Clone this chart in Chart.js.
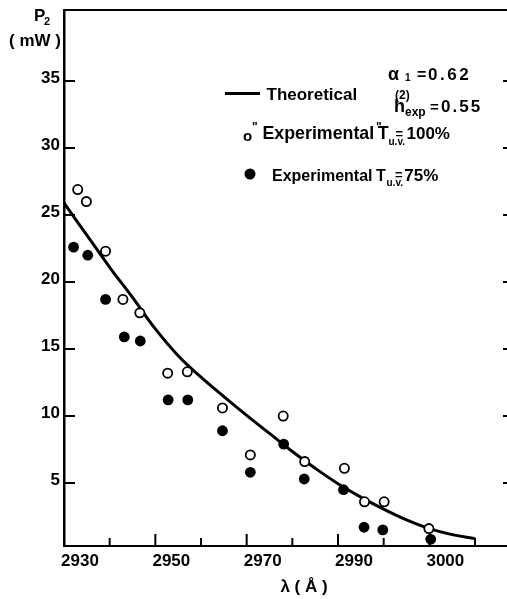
<!DOCTYPE html>
<html><head><meta charset="utf-8">
<script src="https://cdn.jsdelivr.net/npm/chart.js@4.4.0/dist/chart.umd.min.js"></script>
<style>html,body{margin:0;padding:0;background:#fff;overflow:hidden;} #wrap{width:507px;height:599px;position:relative;}</style>
</head><body><div id="wrap"><canvas id="c"></canvas></div>
<script>
// Theoretical curve (λ in Å, P2 in mW)
const curveX = [2930, 2935, 2940, 2945, 2950, 2955, 2960, 2965, 2970, 2975, 2980, 2985, 2990, 2995, 3000, 3005, 3010, 3015, 3020];
const curveY = [25.9, 23.5, 21.1, 18.85, 16.5, 14.5, 12.9, 11.45, 10.05, 8.7, 7.35, 6.1, 4.95, 3.95, 3.05, 2.25, 1.6, 1.15, 0.85];
// Experimental T_uv = 100% (open circles)
const openX = [2933.0, 2934.9, 2939.1, 2942.9, 2946.6, 2952.7, 2957.0, 2964.7, 2970.8, 2978.0, 2982.7, 2991.4, 2995.8, 3000.1, 3009.9];
const openY = [26.9, 26.0, 22.3, 18.7, 17.7, 13.2, 13.3, 10.6, 7.1, 10.0, 6.6, 6.1, 3.6, 3.6, 1.6];
// Experimental T_uv = 75% (filled circles)
const filledX = [2932.1, 2935.2, 2939.1, 2943.2, 2946.7, 2952.8, 2957.1, 2964.7, 2970.8, 2978.1, 2982.6, 2991.2, 2995.7, 2999.8, 3010.3];
const filledY = [22.6, 22.0, 18.7, 15.9, 15.6, 11.2, 11.2, 8.9, 5.8, 7.9, 5.3, 4.5, 1.7, 1.5, 0.8];
// Axis ticks
const xTickValues = [2930, 2940, 2950, 2960, 2970, 2980, 2990, 3000, 3010, 3020];
const xMajorTicks = [2950, 2970, 2990, 3010];
const xLabelValues = [2930, 2950, 2970, 2990, 3010];
const xLabelTexts = ['2930', '2950', '2970', '2990', '3000'];
const yTickValues = [5, 10, 15, 20, 25, 30, 35];
const yLabelTexts = ['5', '10', '15', '20', '25', '30', '35'];

const FONT = '"Liberation Sans", Arial, Helvetica, sans-serif';
const toPts = (xs, ys) => xs.map((x, i) => ({x: x, y: ys[i]}));

const framePlugin = {
  id: 'frame',
  afterDraw(chart) {
    const ctx = chart.ctx, a = chart.chartArea;
    const xs = chart.scales.x, ys = chart.scales.y;
    ctx.save();
    ctx.strokeStyle = '#000';
    ctx.lineCap = 'butt';
    // top border
    ctx.lineWidth = 2;
    ctx.beginPath(); ctx.moveTo(a.left - 1, a.top); ctx.lineTo(a.right, a.top); ctx.stroke();
    // left inward ticks and right small ticks
    yTickValues.forEach(v => {
      const y = ys.getPixelForValue(v);
      ctx.beginPath(); ctx.moveTo(a.left, y); ctx.lineTo(a.left + 11, y); ctx.stroke();
      ctx.beginPath(); ctx.moveTo(a.right - 4, y); ctx.lineTo(a.right, y); ctx.stroke();
    });
    // bottom inward ticks
    xTickValues.forEach(v => {
      if (v === xs.min) return;
      const x = xs.getPixelForValue(v);
      const len = xMajorTicks.includes(v) ? 12 : 8;
      ctx.beginPath(); ctx.moveTo(x, a.bottom); ctx.lineTo(x, a.bottom - len); ctx.stroke();
    });
    // axis titles
    ctx.fillStyle = '#000';
    ctx.textBaseline = 'alphabetic';
    const txt = (s, x, y, size, weight, ls) => {
      ctx.font = (weight || 'bold') + ' ' + size + 'px ' + FONT;
      ctx.letterSpacing = (ls || 0) + 'px';
      ctx.textAlign = 'left';
      ctx.fillText(s, x, y);
      ctx.letterSpacing = '0px';
    };
    txt('P', 34, 21, 17);
    txt('2', 44, 25, 11);
    txt('( mW )', 9, 45.5, 17);
    ctx.font = 'bold 17px ' + FONT; ctx.textAlign = 'center';
    ctx.fillText('λ ( Å )', 304, 592);
    // legend
    ctx.lineWidth = 3;
    ctx.beginPath(); ctx.moveTo(225, 93.5); ctx.lineTo(260, 93.5); ctx.stroke();
    txt('Theoretical', 266.5, 99.5, 17);
    txt('α', 388, 80, 18);
    txt('1', 405, 81, 10);
    txt('=', 417, 80, 16);
    txt('0.62', 428, 80, 17, 'bold', 2.5);
    txt('(2)', 395, 99, 12);
    txt('h', 394, 111.7, 18);
    txt('exp', 405, 116, 12);
    txt('=', 430, 111.7, 15);
    txt('0.55', 441, 111.7, 17, 'bold', 2);
    txt('o', 243, 140.5, 15);
    txt('"', 252, 131, 12);
    txt('Experimental', 262.5, 138.7, 17.8);
    txt('"', 376, 131, 12);
    txt('T', 377.7, 138.7, 17.8);
    txt('u.v.', 388.5, 145, 10);
    txt('=', 395.5, 137.5, 13);
    txt('100%', 406.5, 138.7, 17);
    ctx.beginPath(); ctx.arc(250, 174, 5.5, 0, Math.PI * 2); ctx.fill();
    txt('Experimental', 272, 180.7, 16);
    txt('T', 376, 180.7, 16);
    txt('u.v.', 386.5, 185.5, 10);
    txt('=', 395, 178.5, 13);
    txt('75%', 404.3, 180.7, 17);
    ctx.restore();
  }
};

new Chart(document.getElementById('c'), {
  type: 'scatter',
  data: {
    datasets: [
      {
        label: 'Theoretical', type: 'line', data: toPts(curveX, curveY),
        borderColor: '#000', borderWidth: 3, pointRadius: 0, fill: false,
        tension: 0.4, order: 3
      },
      {
        label: 'Experimental T u.v. = 100%', data: toPts(openX, openY),
        pointStyle: 'circle', pointRadius: 4.6, borderWidth: 1.8,
        borderColor: '#000', backgroundColor: '#fff', order: 2
      },
      {
        label: 'Experimental T u.v. = 75%', data: toPts(filledX, filledY),
        pointStyle: 'circle', pointRadius: 5.4, borderWidth: 0,
        borderColor: '#000', backgroundColor: '#000', order: 1
      }
    ]
  },
  options: {
    responsive: true, maintainAspectRatio: false, animation: false,
    layout: {autoPadding: false, padding: {top: 10, right: 0, left: 0, bottom: 0}},
    plugins: {legend: {display: false}, tooltip: {enabled: false}},
    scales: {
      x: {
        type: 'linear', min: 2930, max: 3027,
        afterBuildTicks: s => { s.ticks = xTickValues.map(v => ({value: v})); },
        afterFit: s => { s.height = 53; s.paddingLeft = 0; s.paddingRight = 0; },
        grid: {display: false, drawTicks: false},
        border: {display: true, color: '#000', width: 2},
        ticks: {
          autoSkip: false, maxRotation: 0, color: '#000', padding: 5, labelOffset: 16,
          font: {family: FONT, size: 17, weight: 'bold'},
          callback: v => { const i = xLabelValues.indexOf(v); return i >= 0 ? xLabelTexts[i] : ''; }
        }
      },
      y: {
        type: 'linear', min: 0.3, max: 40.3,
        afterBuildTicks: s => { s.ticks = yTickValues.map(v => ({value: v})); },
        afterFit: s => { s.width = 64; s.paddingTop = 0; s.paddingBottom = 0; },
        grid: {display: false, drawTicks: false},
        border: {display: true, color: '#000', width: 2.5},
        ticks: {
          autoSkip: false, color: '#000', padding: 4, labelOffset: -3,
          font: {family: FONT, size: 17, weight: 'bold'},
          callback: v => { const i = yTickValues.indexOf(v); return i >= 0 ? yLabelTexts[i] : ''; }
        }
      }
    }
  },
  plugins: [framePlugin]
});
</script>
</body></html>
